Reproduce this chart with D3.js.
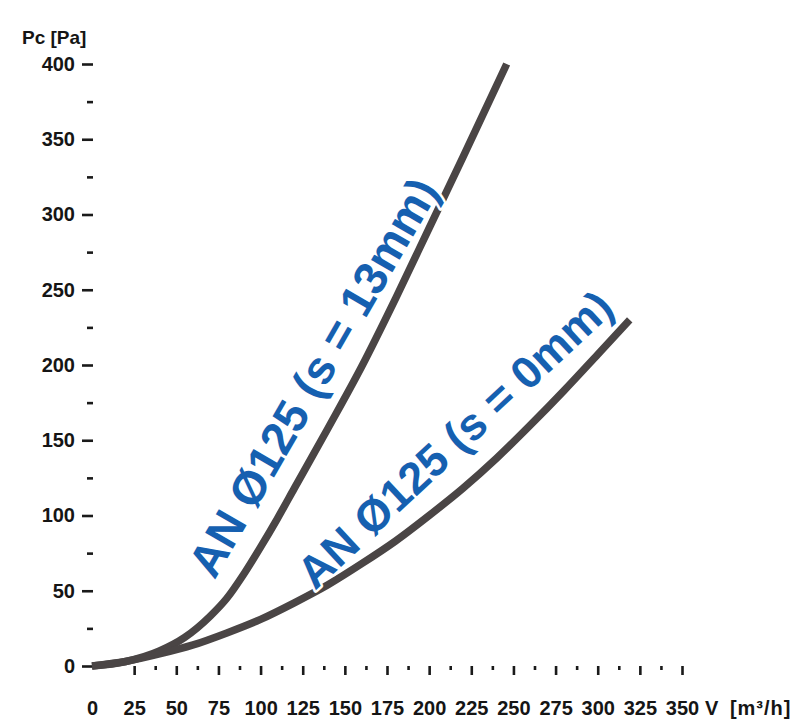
<!DOCTYPE html>
<html>
<head>
<meta charset="utf-8">
<script src="https://cdn.jsdelivr.net/npm/d3@7"></script>
<style>
  html, body { margin: 0; padding: 0; background: #ffffff; }
  svg { display: block; }
  .ax text { font-family: "Liberation Sans", Arial, sans-serif; font-weight: bold; font-size: 20px; fill: #151515; }
</style>
</head>
<body>
<svg id="chart" width="798" height="720"></svg>
<script>
// ---- data ----
const xMajorTicks = [0, 25, 50, 75, 100, 125, 150, 175, 200, 225, 250, 275, 300, 325, 350];
const xMinorTicks = [37.5, 62.5, 87.5, 112.5, 137.5, 162.5, 187.5, 212.5, 237.5, 262.5, 287.5, 312.5, 337.5];
const yMajorTicks = [0, 50, 100, 150, 200, 250, 300, 350, 400];
const yMinorTicks = [25, 75, 125, 175, 225, 275, 325, 375];
const xTitle = "V [m³/h]";
const yTitle = "Pc [Pa]";

const seriesNames = ["AN Ø125 (s = 13mm)", "AN Ø125 (s = 0mm)"];
const flow13 = [0, 20, 40, 55, 70, 80, 90, 100, 110, 120, 140, 160, 180, 200, 220, 246];
const press13 = [0, 3, 10, 19, 33, 45, 61, 79, 98, 118, 158, 199, 244, 291, 338, 400];
const flow0 = [0, 20, 40, 60, 80, 100, 120, 140, 160, 180, 200, 220, 240, 260, 280, 300, 319];
const press0 = [0, 3, 8, 14, 22, 31, 42, 54, 68, 83, 100, 118, 138, 160, 183, 207, 230];
// label anchors (data coords), text angles and sizes
const labelFlow = [139.5, 221.5];
const labelPress = [186.5, 143];
const labelAngle = [-60, -43];
const labelSize = [46.5, 45];

// ---- chart ----
const svg = d3.select("#chart");
const x = d3.scaleLinear().domain([0, 350]).range([92, 682]);
const y = d3.scaleLinear().domain([0, 400]).range([666, 64]);

// y axis
const yAxisG = svg.append("g").attr("class", "ax").attr("transform", "translate(93,0)");
yAxisG.call(d3.axisLeft(y).tickValues(yMajorTicks).tickSize(11).tickPadding(7).tickFormat(d3.format("d")));
yAxisG.select(".domain").remove();
yAxisG.selectAll(".tick line").attr("stroke", "#1a1a1a").attr("stroke-width", 2.6);
const yMinorG = svg.append("g").attr("class", "ax").attr("transform", "translate(93,0)");
yMinorG.call(d3.axisLeft(y).tickValues(yMinorTicks).tickSize(6).tickFormat(""));
yMinorG.select(".domain").remove();
yMinorG.selectAll(".tick line").attr("stroke", "#1a1a1a").attr("stroke-width", 2.6);

// x axis
const xAxisG = svg.append("g").attr("class", "ax").attr("transform", "translate(0,666)");
xAxisG.call(d3.axisBottom(x).tickValues(xMajorTicks).tickSize(9).tickPadding(26).tickFormat(d3.format("d")));
xAxisG.select(".domain").remove();
xAxisG.selectAll(".tick line").attr("stroke", "#1a1a1a").attr("stroke-width", 2.6)
  .attr("opacity", d => d === 0 ? 0 : 1);
const xMinorG = svg.append("g").attr("class", "ax").attr("transform", "translate(0,666)");
xMinorG.call(d3.axisBottom(x).tickValues(xMinorTicks).tickSize(4).tickFormat(""));
xMinorG.select(".domain").remove();
xMinorG.selectAll(".tick line").attr("stroke", "#1a1a1a").attr("stroke-width", 2.6);

// titles
svg.append("text")
  .attr("x", 22).attr("y", 44)
  .style("font-family", "'Liberation Sans', Arial, sans-serif").style("font-weight", "bold")
  .style("font-size", "19px").style("fill", "#151515").text(yTitle);
svg.append("text")
  .attr("x", 705).attr("y", 715)
  .style("font-family", "'Liberation Sans', Arial, sans-serif").style("font-weight", "bold")
  .style("font-size", "20px").style("fill", "#151515")
  .style("word-spacing", "4px").style("letter-spacing", "1px").text(xTitle);

// curves
const line = d3.line().x(d => x(d[0])).y(d => y(d[1])).curve(d3.curveMonotoneX);
const curves = [flow13.map((v, i) => [v, press13[i]]), flow0.map((v, i) => [v, press0[i]])];
svg.append("g").selectAll("path").data(curves).join("path")
  .attr("d", line)
  .attr("fill", "none")
  .attr("stroke", "#4a4545")
  .attr("stroke-width", 7.5)
  .attr("stroke-linecap", "butt");

// labels
svg.append("g").selectAll("text").data(seriesNames).join("text")
  .attr("transform", (d, i) => `translate(${x(labelFlow[i])},${y(labelPress[i])}) rotate(${labelAngle[i]})`)
  .attr("text-anchor", "middle")
  .style("font-family", "'Liberation Sans', Arial, sans-serif")
  .style("font-weight", "bold")
  .style("font-size", (d, i) => labelSize[i] + "px")
  .style("fill", "#1660b0")
  .style("stroke", "#ffffff")
  .style("stroke-width", "5px")
  .style("stroke-linejoin", "round")
  .style("paint-order", "stroke")
  .text(d => d);
</script>
</body>
</html>
